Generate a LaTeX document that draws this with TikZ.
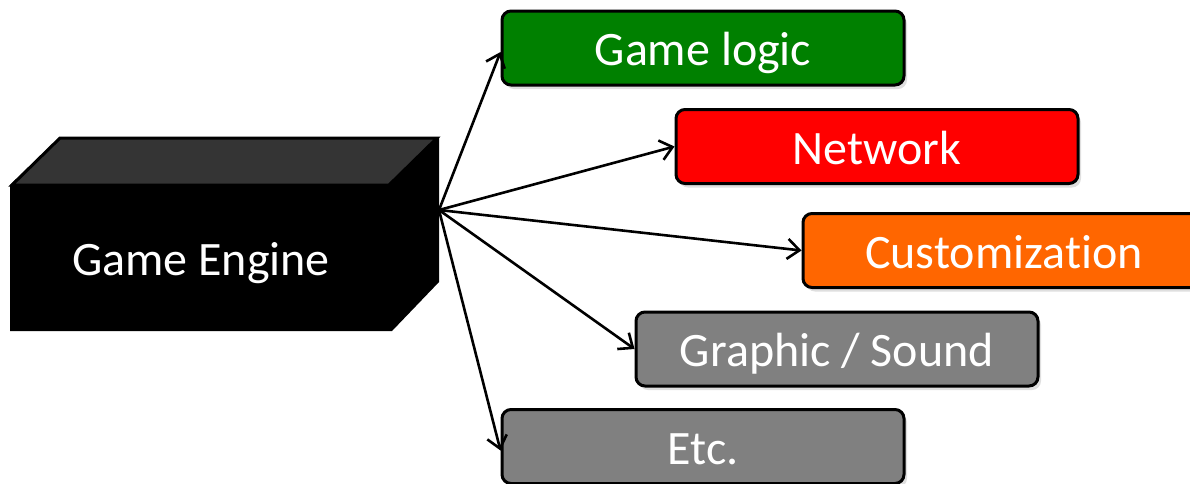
\documentclass[tikz,border=0pt]{standalone}
\usepackage{fontspec}
\setmainfont{Carlito}[RawFeature=-liga]
\usetikzlibrary{arrows.meta,shadows}
\definecolor{logicgreen}{RGB}{0,128,0}
\definecolor{netred}{RGB}{255,0,0}
\definecolor{custorange}{RGB}{255,102,0}
\definecolor{modgray}{RGB}{128,128,128}
\definecolor{topgray}{RGB}{52,52,52}
\tikzset{
  labelfont/.style={font=\fontsize{48}{54}\selectfont,
    text height=40pt, text depth=5pt},
  module/.style={draw=black, line width=3pt, rounded corners=9pt,
    minimum width=402pt, minimum height=74pt, inner sep=0pt,
    text=white, labelfont,
    drop shadow={shadow xshift=3pt, shadow yshift=-4pt, opacity=0.25}},
  link/.style={draw=black, line width=2.6pt,
    -{Straight Barb[length=12pt, width=20pt, line width=2.6pt]}},
}
\begin{document}
\begin{tikzpicture}[x=1pt, y=-1pt]
  \useasboundingbox (0,0) rectangle (1190,483);
  \clip (0,0) rectangle (1190,483);

  % the engine block: front and side faces, then the lit top face
  \fill[black] (10,185) -- (60,137) -- (439,137) -- (439,282)
    -- (392,331) -- (10,331) -- cycle;
  \filldraw[fill=topgray, draw=black, line width=3pt, line join=miter]
    (12,185) -- (60,138) -- (437,138) -- (389,185) -- cycle;
  \node[text=white, labelfont, inner sep=0pt] (engine) at (201,258) {Game Engine};
  \coordinate (src) at (439,210);

  % the engine's modules
  \node[module, fill=logicgreen] (logic) at (703,48)    {Game logic};
  \node[module, fill=netred]     (net)   at (877,146.5) {Network};
  \node[module, fill=custorange] (cust)  at (1004,250.5){Customization};
  \node[module, fill=modgray]    (gfx)   at (837,349)   {Graphic / Sound};
  \node[module, fill=modgray]    (etc)   at (703,446.5) {Etc.};

  % links from the engine to each module
  \draw[link] (src) -- ([yshift=-4pt]logic.west);
  \draw[link] (src) -- (net.west);
  \draw[link] (src) -- (cust.west);
  \draw[link] (src) -- (gfx.west);
  \draw[link] (src) -- ([yshift=-4pt]etc.west);
\end{tikzpicture}
\end{document}
